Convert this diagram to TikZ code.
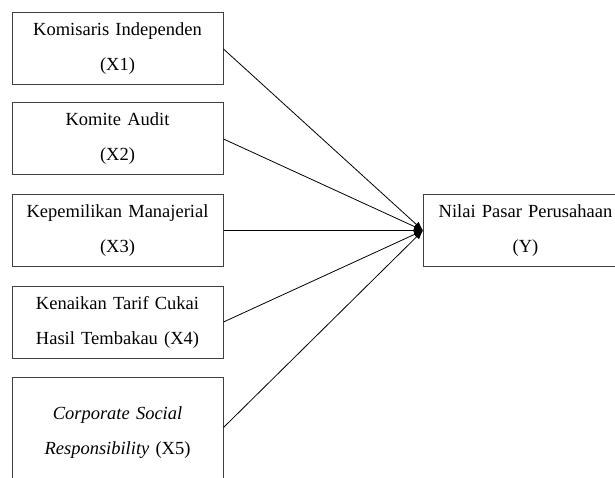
\documentclass[tikz,border=0pt]{standalone}
\usepackage{fontspec}
\setmainfont{Liberation Serif}
\usetikzlibrary{arrows.meta}

\begin{document}
\begin{tikzpicture}[x=1pt, y=1pt,
		varbox/.style={draw=black!75, line width=1pt, minimum width=211pt, minimum height=72pt,
			text width=205pt, align=center, inner sep=0pt,
			font={\fontsize{18.5}{35}\selectfont}},
		link/.style={line width=0.8pt, -{Latex[length=9pt,width=7pt]}}]
				\useasboundingbox (0,0) rectangle (615,477);
				\clip (0,0) rectangle (615,477);

				% Independent variables
				\node[varbox] (x1) at (117.5,428) {Komisaris Independen\\(X1)};
				\node[varbox] (x2) at (117.5,338) {Komite Audit\\(X2)};
				\node[varbox] (x3) at (117.5,246.5) {Kepemilikan Manajerial\\(X3)};
				\node[varbox] (x4) at (117.5,155) {Kenaikan Tarif Cukai\\Hasil Tembakau (X4)};
				% X5 box runs off the bottom edge
				\node[varbox, minimum height=110pt] (x5) at (117.5,44.5) {\textit{Corporate Social}\\\textit{Responsibility} (X5)\\[10pt]};

				% Dependent variable (runs off the right edge)
				\node[varbox, text width=260pt, align=left, anchor=west] (y) at (423,246.5)
					{\parbox{204pt}{\centering Nilai Pasar Perusahaan\\(Y)}};

				% Paths
				\draw[link] (x1.east) -- (y.west);
				\draw[link] (x2.east) -- (y.west);
				\draw[link] (x3.east) -- (y.west);
				\draw[link] (x4.east) -- (y.west);
				\draw[link] ([yshift=5pt]x5.east) -- (y.west);
			\end{tikzpicture}
\end{document}
